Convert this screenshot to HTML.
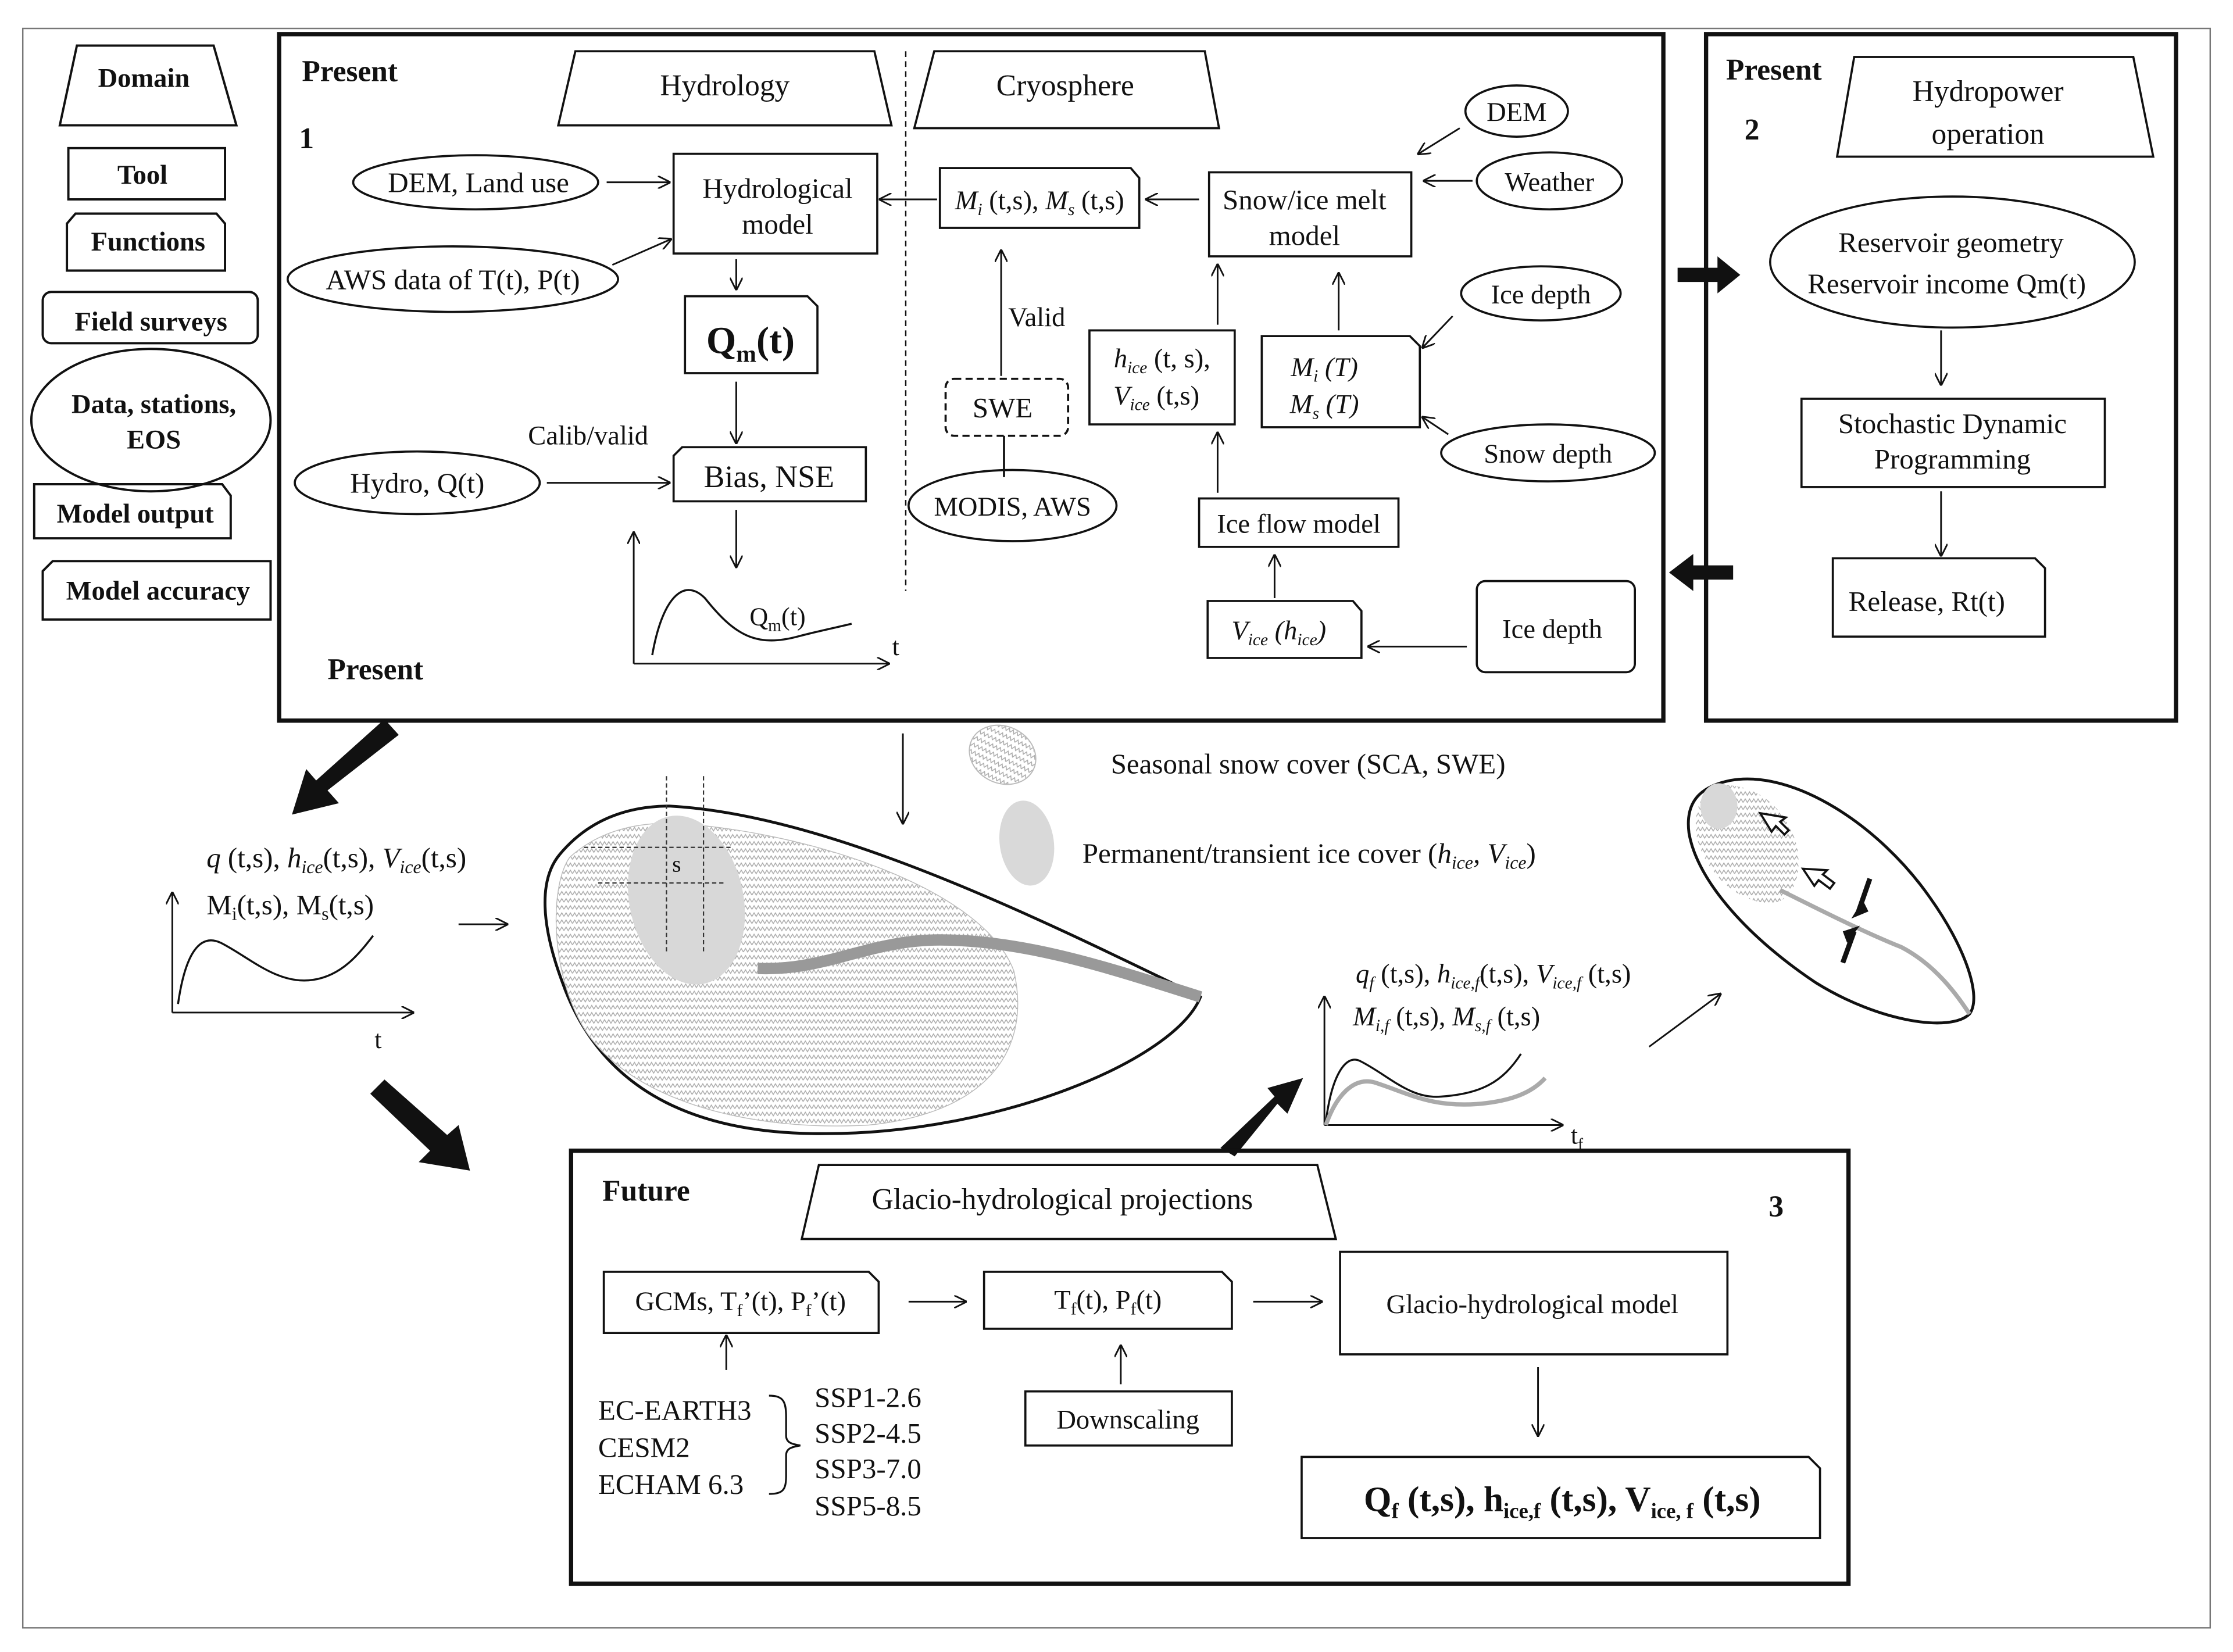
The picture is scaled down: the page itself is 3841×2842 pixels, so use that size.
<!DOCTYPE html>
<html><head><meta charset="utf-8"><style>
html,body{margin:0;padding:0;background:#fff;}
svg{display:block;}
svg text{font-family:"Liberation Serif","DejaVu Serif",serif;fill:#111;}
.b{font-weight:bold;}
</style></head><body>
<svg width="3841" height="2842" viewBox="0 0 1568 1160" preserveAspectRatio="none" xmlns="http://www.w3.org/2000/svg" font-family="Liberation Serif, DejaVu Serif, serif">
<defs>
<pattern id="hz" width="6" height="5" patternUnits="userSpaceOnUse">
<rect width="6" height="5" fill="#fff"/>
<polyline points="0,3.5 1.5,1 3,3.5 4.5,1 6,3.5" fill="none" stroke="#aaa" stroke-width="0.6"/>
</pattern>
<marker id="a" viewBox="0 0 10 10" refX="9" refY="5" markerWidth="9" markerHeight="9" orient="auto" markerUnits="userSpaceOnUse"><path d="M0,0 L10,5 L0,10" fill="none" stroke="#111" stroke-width="1.3"/></marker>
</defs>
<rect width="1568" height="1160" fill="#fff"/>
<rect x="16" y="20" width="1536" height="1123" fill="none" stroke="#777" stroke-width="1"/>

<g fill="none" stroke="#111" stroke-width="1.6">
<path d="M54,32 L150,32 L166,88 L42,88 Z"/>
<rect x="48" y="104" width="110" height="36"/>
<path d="M53,150 L152,150 L158,157 L158,190 L47,190 L47,157 Z"/>
<rect x="30" y="205" width="151" height="36" rx="6"/>
<ellipse cx="106" cy="295" rx="84" ry="50"/>
<path d="M24,340 L156,340 L162,348 L162,378 L24,378 Z"/>
<path d="M37,394 L190,394 L190,435 L30,435 L30,401 Z"/>
</g>
<g font-size="19" class="b" text-anchor="middle">
<text x="101" y="61" class="b">Domain</text>
<text x="100" y="129" class="b">Tool</text>
<text x="104" y="176" class="b">Functions</text>
<text x="106" y="232" class="b">Field surveys</text>
<text x="108" y="290" class="b">Data, stations,</text>
<text x="108" y="315" class="b">EOS</text>
<text x="95" y="367" class="b">Model output</text>
<text x="111" y="421" class="b">Model accuracy</text>
</g>

<rect x="196" y="24" width="972" height="482" fill="none" stroke="#111" stroke-width="3"/>
<text x="212" y="57" font-size="21" class="b">Present</text>
<text x="210" y="104" font-size="21" class="b">1</text>
<text x="230" y="477" font-size="21" class="b">Present</text>
<g fill="none" stroke="#111" stroke-width="1.5">
<path d="M404,36 L614,36 L626,88 L392,88 Z"/>
<path d="M656,36 L846,36 L856,90 L642,90 Z"/>
<line x1="636" y1="36" x2="636" y2="415" stroke-dasharray="4,3" stroke-width="1"/>
<ellipse cx="334" cy="128" rx="86" ry="19"/>
<ellipse cx="318" cy="196" rx="116" ry="23"/>
<ellipse cx="293" cy="339" rx="86" ry="22"/>
<rect x="473" y="108" width="143" height="70"/>
<path d="M481,208 L567,208 L574,215 L574,262 L481,262 Z"/>
<path d="M479,314 L608,314 L608,352 L473,352 L473,320 Z"/>
<path d="M660,118 L794,118 L800,125 L800,160 L660,160 Z"/>
<rect x="849" y="121" width="142" height="59"/>
<ellipse cx="1065" cy="78" rx="36" ry="18"/>
<ellipse cx="1088" cy="127" rx="51" ry="20"/>
<rect x="664" y="266" width="86" height="40" rx="6" stroke-dasharray="5,3"/>
<ellipse cx="711" cy="355" rx="73" ry="25"/>
<rect x="765" y="232" width="102" height="66"/>
<path d="M886,236 L990,236 L997,243 L997,300 L886,300 Z"/>
<ellipse cx="1082" cy="206" rx="56" ry="19"/>
<ellipse cx="1087" cy="318" rx="75" ry="20"/>
<rect x="842" y="350" width="140" height="34"/>
<path d="M848,422 L950,422 L956,429 L956,462 L848,462 Z"/>
<rect x="1037" y="408" width="111" height="64" rx="6"/>
<line x1="705" y1="306" x2="705" y2="335"/>
</g>
<g fill="none" stroke="#111" stroke-width="1.2" marker-end="url(#a)">
<line x1="426" y1="128" x2="470" y2="128"/>
<line x1="430" y1="186" x2="471" y2="168"/>
<line x1="517" y1="182" x2="517" y2="203"/>
<line x1="517" y1="268" x2="517" y2="311"/>
<line x1="384" y1="339" x2="470" y2="339"/>
<line x1="517" y1="358" x2="517" y2="398"/>
<line x1="658" y1="140" x2="618" y2="140"/>
<line x1="842" y1="140" x2="805" y2="140"/>
<line x1="1025" y1="90" x2="996" y2="108"/>
<line x1="1034" y1="127" x2="1000" y2="127"/>
<line x1="703" y1="264" x2="703" y2="176"/>
<line x1="855" y1="228" x2="855" y2="186"/>
<line x1="940" y1="232" x2="940" y2="192"/>
<line x1="1020" y1="222" x2="999" y2="244"/>
<line x1="1017" y1="305" x2="999" y2="293"/>
<line x1="855" y1="346" x2="855" y2="304"/>
<line x1="895" y1="420" x2="895" y2="390"/>
<line x1="1030" y1="454" x2="961" y2="454"/>
<line x1="445" y1="466" x2="445" y2="374"/>
<line x1="445" y1="466" x2="624" y2="466"/>
</g>
<path d="M458,460 C465,420 480,405 495,420 C515,445 530,455 560,447 C575,443 590,440 598,438" fill="none" stroke="#111" stroke-width="1.4"/>
<g font-size="20" text-anchor="middle">
<text x="509" y="67" font-size="21">Hydrology</text>
<text x="748" y="67" font-size="21">Cryosphere</text>
<text x="336" y="135">DEM, Land use</text>
<text x="318" y="203">AWS data of T(t), P(t)</text>
<text x="293" y="346">Hydro, Q(t)</text>
<text x="546" y="139">Hydrological</text>
<text x="546" y="164">model</text>
<text x="527" y="248" font-size="27" class="b">Q<tspan font-size="17" dy="6">m</tspan><tspan dy="-6">(t)</tspan></text>
<text x="540" y="342" font-size="22">Bias, NSE</text>
<text x="413" y="312" font-size="19">Calib/valid</text>
<text x="546" y="439" font-size="18">Q<tspan font-size="12" dy="4">m</tspan><tspan dy="-4">(t)</tspan></text>
<text x="629" y="460" font-size="18">t</text>
<text x="730" y="147" font-size="19"><tspan font-style="italic">M<tspan font-size="12" dy="4">i</tspan></tspan><tspan dy="-4"> (t,s), </tspan><tspan font-style="italic">M<tspan font-size="12" dy="4">s</tspan></tspan><tspan dy="-4"> (t,s)</tspan></text>
<text x="916" y="147">Snow/ice melt</text>
<text x="916" y="172">model</text>
<text x="1065" y="85" font-size="19">DEM</text>
<text x="1088" y="134" font-size="19">Weather</text>
<text x="728" y="229" font-size="19">Valid</text>
<text x="704" y="293">SWE</text>
<text x="711" y="362" font-size="19">MODIS, AWS</text>
<text x="816" y="258" font-size="19"><tspan font-style="italic">h<tspan font-size="12" dy="4">ice</tspan></tspan><tspan dy="-4"> (t, s),</tspan></text>
<text x="812" y="284" font-size="19"><tspan font-style="italic">V<tspan font-size="12" dy="4">ice</tspan></tspan><tspan dy="-4"> (t,s)</tspan></text>
<text x="930" y="264" font-size="19" font-style="italic">M<tspan font-size="12" dy="4">i</tspan><tspan dy="-4"> (T)</tspan></text>
<text x="930" y="290" font-size="19" font-style="italic">M<tspan font-size="12" dy="4">s</tspan><tspan dy="-4"> (T)</tspan></text>
<text x="1082" y="213" font-size="19">Ice depth</text>
<text x="1087" y="325" font-size="19">Snow depth</text>
<text x="912" y="374" font-size="19">Ice flow model</text>
<text x="898" y="449" font-size="19" font-style="italic">V<tspan font-size="12" dy="4">ice</tspan><tspan dy="-4"> (</tspan>h<tspan font-size="12" dy="4">ice</tspan><tspan dy="-4">)</tspan></text>
<text x="1090" y="448" font-size="19">Ice depth</text>
</g>

<rect x="1198" y="24" width="330" height="482" fill="none" stroke="#111" stroke-width="3"/>
<text x="1212" y="56" font-size="21" class="b">Present</text>
<text x="1225" y="98" font-size="21" class="b">2</text>
<g fill="none" stroke="#111" stroke-width="1.5">
<path d="M1302,40 L1498,40 L1512,110 L1290,110 Z"/>
<ellipse cx="1371" cy="184" rx="128" ry="46"/>
<rect x="1265" y="280" width="213" height="62"/>
<path d="M1287,392 L1429,392 L1436,399 L1436,447 L1287,447 Z"/>
</g>
<g fill="none" stroke="#111" stroke-width="1.2" marker-end="url(#a)">
<line x1="1363" y1="232" x2="1363" y2="270"/>
<line x1="1363" y1="345" x2="1363" y2="390"/>
</g>
<g font-size="20" text-anchor="middle">
<text x="1396" y="71" font-size="21">Hydropower</text>
<text x="1396" y="101" font-size="21">operation</text>
<text x="1370" y="177">Reservoir geometry</text>
<text x="1367" y="206">Reservoir income Qm(t)</text>
<text x="1371" y="304">Stochastic Dynamic</text>
<text x="1371" y="329">Programming</text>
<text x="1353" y="429">Release, Rt(t)</text>
</g>

<g fill="#111">
<path d="M1178,188 L1206,188 L1206,180 L1222,193 L1206,206 L1206,198 L1178,198 Z"/>
<path d="M1217,397 L1189,397 L1189,389 L1172,402 L1189,415 L1189,407 L1217,407 Z"/>
<path d="M270,505 L280,516 L230,555 L238,564 L205,572 L215,540 L222,548 Z"/>
<path d="M270,758 L260,768 L302,808 L294,816 L330,822 L322,790 L314,797 Z"/>
<path d="M857,806 L867,812 L897,775 L904,782 L915,757 L890,764 L895,770 Z"/>
</g>
<line x1="634" y1="515" x2="634" y2="578" stroke="#111" stroke-width="1.2" marker-end="url(#a)"/>

<ellipse cx="704" cy="530" rx="24" ry="20" fill="url(#hz)" stroke="#bbb" stroke-width="0.8" transform="rotate(25 704 530)"/>
<ellipse cx="721" cy="592" rx="19" ry="30" fill="#d9d9d9" transform="rotate(-8 721 592)"/>
<text x="780" y="543" font-size="20">Seasonal snow cover (SCA, SWE)</text>
<text x="760" y="606" font-size="20">Permanent/transient ice cover (<tspan font-style="italic">h<tspan font-size="13" dy="4">ice</tspan><tspan dy="-4">, V</tspan><tspan font-size="13" dy="4">ice</tspan></tspan><tspan dy="-4">)</tspan></text>

<text x="145" y="609" font-size="20"><tspan font-style="italic">q</tspan> (t,s), <tspan font-style="italic">h<tspan font-size="13" dy="4">ice</tspan></tspan><tspan dy="-4">(t,s), </tspan><tspan font-style="italic">V<tspan font-size="13" dy="4">ice</tspan></tspan><tspan dy="-4">(t,s)</tspan></text>
<text x="145" y="642" font-size="20">M<tspan font-size="13" dy="4">i</tspan><tspan dy="-4">(t,s), M</tspan><tspan font-size="13" dy="4">s</tspan><tspan dy="-4">(t,s)</tspan></text>
<g fill="none" stroke="#111" stroke-width="1.2" marker-end="url(#a)">
<line x1="121" y1="711" x2="121" y2="627"/>
<line x1="121" y1="711" x2="290" y2="711"/>
<line x1="322" y1="649" x2="356" y2="649"/>
<line x1="1158" y1="735" x2="1208" y2="698"/>
<line x1="930" y1="790" x2="930" y2="700"/>
<line x1="930" y1="790" x2="1097" y2="790"/>
</g>
<path d="M125,705 C130,670 140,655 155,662 C175,672 195,692 220,688 C240,685 252,670 262,657" fill="none" stroke="#111" stroke-width="1.4"/>
<text x="263" y="736" font-size="18">t</text>

<path d="M470,566 C580,572 720,640 843,700 C825,745 700,796 580,796 C480,797 420,760 395,690 C380,650 378,618 393,600 C413,576 440,566 470,566 Z" fill="#fff" stroke="#111" stroke-width="2"/>
<path d="M470,578 C560,582 690,622 712,682 C725,740 690,782 610,790 C520,795 440,770 410,722 C386,682 386,622 400,602 C420,584 445,578 470,578 Z" fill="url(#hz)" stroke="#bbb" stroke-width="0.6"/>
<ellipse cx="482" cy="632" rx="40" ry="60" fill="#d8d8d8" transform="rotate(-12 482 632)"/>
<path d="M532,680 C580,682 610,660 660,660 C720,660 780,680 843,700" fill="none" stroke="#999" stroke-width="8"/>
<g stroke="#333" stroke-width="0.9" stroke-dasharray="3,2">
<line x1="410" y1="595" x2="515" y2="595"/>
<line x1="420" y1="620" x2="510" y2="620"/>
<line x1="468" y1="545" x2="468" y2="670"/>
<line x1="494" y1="545" x2="494" y2="670"/>
</g>
<text x="472" y="612" font-size="16">s</text>

<path d="M1215,548 C1260,540 1320,580 1355,630 C1380,665 1392,700 1383,712 C1370,725 1320,718 1275,690 C1230,660 1192,620 1186,585 C1183,562 1195,552 1215,548 Z" fill="#fff" stroke="#111" stroke-width="2"/>
<path d="M1205,552 C1230,548 1255,566 1262,595 C1266,620 1256,636 1240,634 C1218,632 1198,612 1192,590 C1188,572 1194,556 1205,552 Z" fill="url(#hz)" stroke="none"/>
<ellipse cx="1207" cy="566" rx="13" ry="16" fill="#d8d8d8"/>
<path d="M1250,625 C1280,640 1310,655 1335,665 C1360,678 1375,700 1383,712" fill="none" stroke="#aaa" stroke-width="3"/>
<g fill="#fff" stroke="#111" stroke-width="1.5">
<path d="M1236,571 L1244,584 L1247,580 L1253,586 L1256,583 L1250,577 L1254,574 Z"/>
<path d="M1266,610 L1274,622 L1277,618 L1285,624 L1288,620 L1280,614 L1283,611 Z"/>
</g>
<g stroke="#111" stroke-width="3.5" fill="#111">
<line x1="1313" y1="617" x2="1305" y2="640"/>
<line x1="1294" y1="676" x2="1302" y2="654"/>
</g>
<path d="M1300,645 L1308,632 L1312,640 Z M1306,650 L1297,662 L1294,654 Z" fill="#111"/>

<text x="952" y="690" font-size="19"><tspan font-style="italic">q<tspan font-size="12" dy="4">f</tspan></tspan><tspan dy="-4"> (t,s), </tspan><tspan font-style="italic">h<tspan font-size="12" dy="4">ice,f</tspan></tspan><tspan dy="-4">(t,s), </tspan><tspan font-style="italic">V<tspan font-size="12" dy="4">ice,f</tspan></tspan><tspan dy="-4"> (t,s)</tspan></text>
<text x="950" y="720" font-size="19"><tspan font-style="italic">M<tspan font-size="12" dy="4">i,f</tspan></tspan><tspan dy="-4"> (t,s), </tspan><tspan font-style="italic">M<tspan font-size="12" dy="4">s,f</tspan></tspan><tspan dy="-4"> (t,s)</tspan></text>
<path d="M931,788 C935,755 945,740 955,745 C975,755 990,772 1012,770 C1040,768 1055,760 1068,740" fill="none" stroke="#111" stroke-width="1.4"/>
<path d="M931,790 C938,770 950,756 965,760 C990,768 1005,778 1040,775 C1060,773 1075,768 1085,757" fill="none" stroke="#aaa" stroke-width="3"/>
<text x="1103" y="803" font-size="18">t<tspan font-size="11" dy="4">f</tspan></text>

<rect x="401" y="808" width="897" height="304" fill="none" stroke="#111" stroke-width="3"/>
<text x="423" y="843" font-size="21" class="b">Future</text>
<text x="1242" y="854" font-size="21" class="b">3</text>
<g fill="none" stroke="#111" stroke-width="1.5">
<path d="M575,818 L925,818 L938,870 L563,870 Z"/>
<path d="M424,893 L610,893 L617,900 L617,936 L424,936 Z"/>
<path d="M691,893 L858,893 L865,900 L865,933 L691,933 Z"/>
<rect x="941" y="879" width="272" height="72"/>
<path d="M914,1023 L1270,1023 L1278,1031 L1278,1080 L914,1080 Z"/>
<rect x="720" y="977" width="145" height="38"/>
<path d="M540,980 C550,980 552,984 552,995 L552,1008 C552,1013 556,1014 562,1015 C556,1016 552,1017 552,1022 L552,1036 C552,1046 550,1049 540,1049" stroke-width="1.3"/>
</g>
<g fill="none" stroke="#111" stroke-width="1.2" marker-end="url(#a)">
<line x1="638" y1="914" x2="678" y2="914"/>
<line x1="880" y1="914" x2="928" y2="914"/>
<line x1="1080" y1="960" x2="1080" y2="1008"/>
<line x1="510" y1="962" x2="510" y2="938"/>
<line x1="787" y1="972" x2="787" y2="945"/>
</g>
<g font-size="20">
<text x="746" y="849" text-anchor="middle" font-size="21">Glacio-hydrological projections</text>
<text x="520" y="920" text-anchor="middle" font-size="19">GCMs, T<tspan font-size="12" dy="4">f</tspan><tspan dy="-4">’(t), P</tspan><tspan font-size="12" dy="4">f</tspan><tspan dy="-4">’(t)</tspan></text>
<text x="778" y="919" text-anchor="middle" font-size="19">T<tspan font-size="12" dy="4">f</tspan><tspan dy="-4">(t), P</tspan><tspan font-size="12" dy="4">f</tspan><tspan dy="-4">(t)</tspan></text>
<text x="1076" y="922" text-anchor="middle" font-size="19">Glacio-hydrological model</text>
<text x="1097" y="1061" text-anchor="middle" font-size="25" class="b">Q<tspan font-size="15" dy="5">f</tspan><tspan dy="-5"> (t,s), h</tspan><tspan font-size="15" dy="5">ice,f</tspan><tspan dy="-5"> (t,s), V</tspan><tspan font-size="15" dy="5">ice, f</tspan><tspan dy="-5"> (t,s)</tspan></text>
<text x="792" y="1003" text-anchor="middle" font-size="19">Downscaling</text>
<text x="420" y="997">EC-EARTH3</text>
<text x="420" y="1023">CESM2</text>
<text x="420" y="1049">ECHAM 6.3</text>
<text x="572" y="988">SSP1-2.6</text>
<text x="572" y="1013">SSP2-4.5</text>
<text x="572" y="1038">SSP3-7.0</text>
<text x="572" y="1064">SSP5-8.5</text>
</g>
</svg>
</body></html>
